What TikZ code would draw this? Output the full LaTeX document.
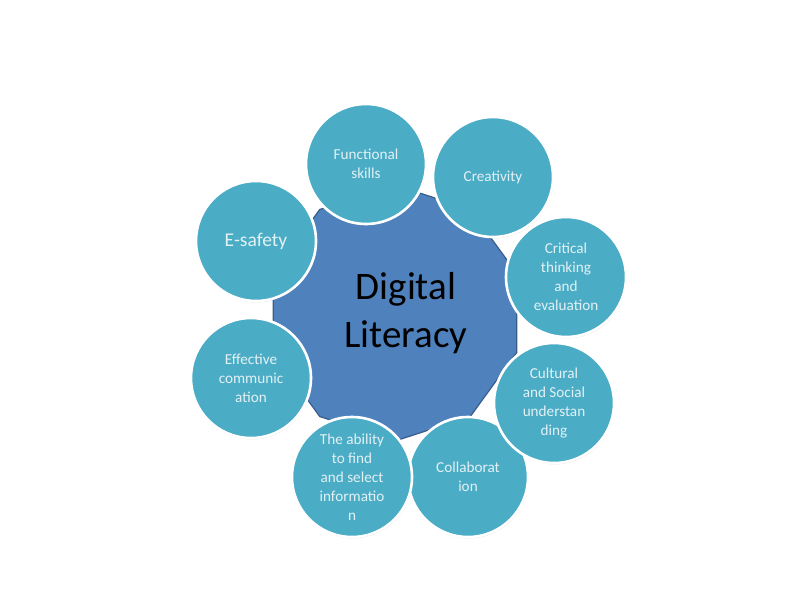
\documentclass[tikz,border=0pt]{standalone}
\usepackage{fontspec}
\setmainfont{Carlito}
\usetikzlibrary{shapes.geometric,shadows}

\definecolor{coreBlue}{RGB}{79,129,189}
\definecolor{coreLine}{RGB}{56,93,138}
\definecolor{skillTeal}{RGB}{75,172,198}
\definecolor{skillText}{RGB}{226,241,244}

\begin{document}
\begin{tikzpicture}
[x=1pt,y=-1pt,%
  coreDecorate/.style={shape=regular polygon,regular polygon sides=10,shape border rotate=18,minimum size=256pt,inner sep=0pt,draw=coreLine,line width=1.2pt,fill=coreBlue},%
  coreText/.style={align=center,inner sep=0pt,font=\fontsize{39}{48}\selectfont},%
  skillDecorate/.style={shape=circle,minimum size=120pt,inner sep=0pt,draw=white,line width=2.6pt,fill=skillTeal,text=skillText,align=center,font=\fontsize{15.2}{19}\selectfont,drop shadow={opacity=0.25,shadow xshift=0.6pt,shadow yshift=-1.4pt}}]
\useasboundingbox (0,0) rectangle (800,600);
%% centre
\node (core) at (395,313) [coreDecorate] {};
\node (coreLabel) at (406,313) [coreText] {Digital\\Literacy};
%% skills round the centre
\foreach \nodename/\x/\y/\txt in {%
  functional/366/164/{Functional\\skills},
  creativity/493/177/{Creativity},
  critical/566/277/{Critical\\thinking\\and\\evaluation},
  collab/468/477/{Collaborat\\ion},
  cultural/554/403/{Cultural\\and Social\\understan\\ding},
  ability/352/477/{The ability\\to find\\and select\\informatio\\n},
  effective/251/378/{Effective\\communic\\ation},
  safety/256/241/{\fontsize{19.5}{23}\selectfont E-safety}}
{
  \node (\nodename) at (\x,\y) [skillDecorate] {\txt};
}
\end{tikzpicture}
\end{document}
